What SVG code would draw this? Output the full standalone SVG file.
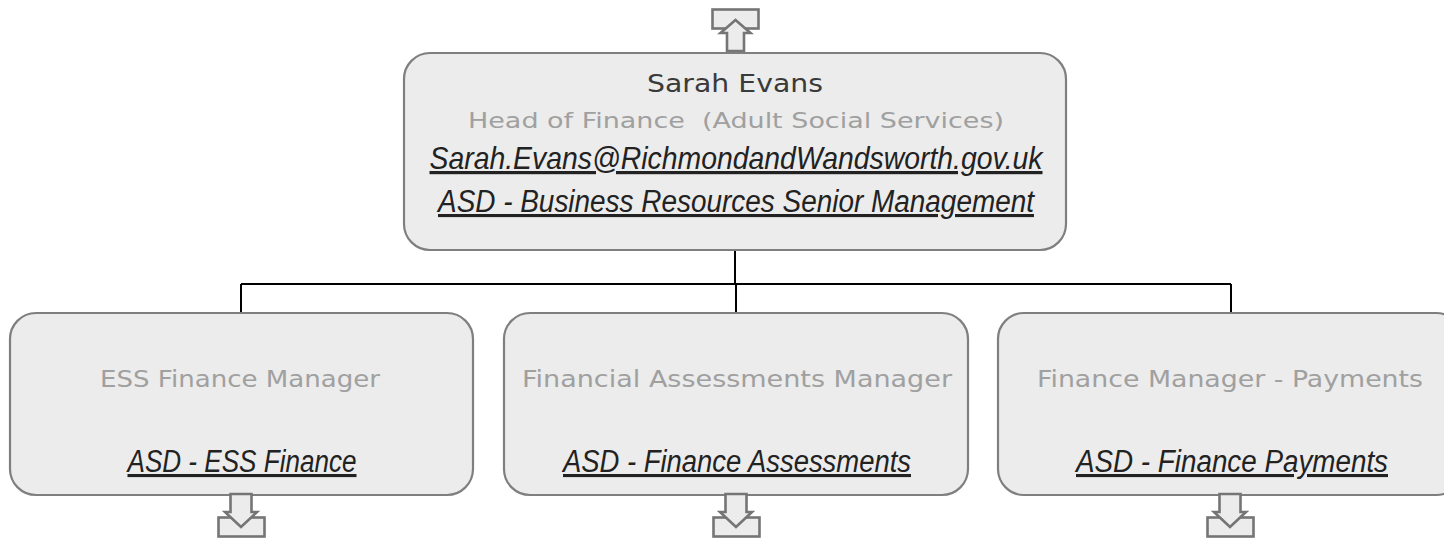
<svg xmlns="http://www.w3.org/2000/svg" width="1444" height="542" viewBox="0 0 1444 542">
<style>
.box{fill:#ececec;stroke:#7f7f7f;stroke-width:2.2}
.icon{fill:#ececec;stroke:#757575;stroke-width:2.6;stroke-linejoin:miter}
.conn{fill:none;stroke:#000;stroke-width:2}
.name{font-family:"DejaVu Sans","Liberation Sans",sans-serif;font-size:25px;fill:#3a3a3a;text-anchor:middle}
.title{font-family:"DejaVu Sans","Liberation Sans",sans-serif;font-size:23px;fill:#a0a0a0;text-anchor:middle}
.link{font-family:"Liberation Sans",Arial,sans-serif;font-style:italic;font-size:31px;fill:#222;text-anchor:middle;text-decoration:underline}
</style>
<rect width="1444" height="542" fill="#fff"/>
<g id="connectors">
<path class="conn" d="M735 250 V284 M241 284 H1231 M241 284 V313 M736 284 V313 M1231 284 V313"/>
</g>
<g id="up-icon">
<rect class="icon" x="712.5" y="9.5" width="46" height="19"/>
<path class="icon" d="M735.5 20 L750.5 33 L744 33 L744 51 L727 51 L727 33 L720.5 33 Z"/>
</g>
<g id="node-sarah">
<rect class="box" x="404" y="53" width="662" height="197" rx="26"/>
<text class="name" x="735" y="92" textLength="176" lengthAdjust="spacingAndGlyphs">Sarah Evans</text>
<text class="title" x="736" y="128" style="font-size:22px" textLength="536" lengthAdjust="spacingAndGlyphs">Head of Finance&#160; (Adult Social Services)</text>
<text class="link" x="736" y="169" style="font-size:32px" textLength="613" lengthAdjust="spacingAndGlyphs">Sarah.Evans@RichmondandWandsworth.gov.uk</text>
<text class="link" x="736" y="212" textLength="596" lengthAdjust="spacingAndGlyphs">ASD - Business Resources Senior Management</text>
</g>
<g id="node-ess">
<rect class="box" x="10" y="313" width="463" height="182" rx="26"/>
<text class="title" x="240" y="387" textLength="280" lengthAdjust="spacingAndGlyphs">ESS Finance Manager</text>
<text class="link" x="242" y="472" textLength="229" lengthAdjust="spacingAndGlyphs">ASD - ESS Finance</text>
</g>
<g id="node-assess">
<rect class="box" x="504" y="313" width="464" height="182" rx="26"/>
<text class="title" x="737" y="387" textLength="430" lengthAdjust="spacingAndGlyphs">Financial Assessments Manager</text>
<text class="link" x="737" y="472" textLength="348" lengthAdjust="spacingAndGlyphs">ASD - Finance Assessments</text>
</g>
<g id="node-payments">
<rect class="box" x="998" y="313" width="464" height="182" rx="26"/>
<text class="title" x="1230" y="387" textLength="386" lengthAdjust="spacingAndGlyphs">Finance Manager - Payments</text>
<text class="link" x="1232" y="472" textLength="312" lengthAdjust="spacingAndGlyphs">ASD - Finance Payments</text>
</g>
<g id="down-icons">
<g id="down-ess">
<rect class="icon" x="218.5" y="517.5" width="46" height="19"/>
<path class="icon" d="M230.5 494 L251.5 494 L251.5 512 L257 512 L241 527 L225 512 L230.5 512 Z"/>
</g>
<g id="down-assess">
<rect class="icon" x="713.5" y="517.5" width="46" height="19"/>
<path class="icon" d="M725.5 494 L746.5 494 L746.5 512 L752 512 L736 527 L720 512 L725.5 512 Z"/>
</g>
<g id="down-payments">
<rect class="icon" x="1207.5" y="517.5" width="46" height="19"/>
<path class="icon" d="M1219.5 494 L1240.5 494 L1240.5 512 L1246 512 L1230 527 L1214 512 L1219.5 512 Z"/>
</g>
</g>
</svg>
